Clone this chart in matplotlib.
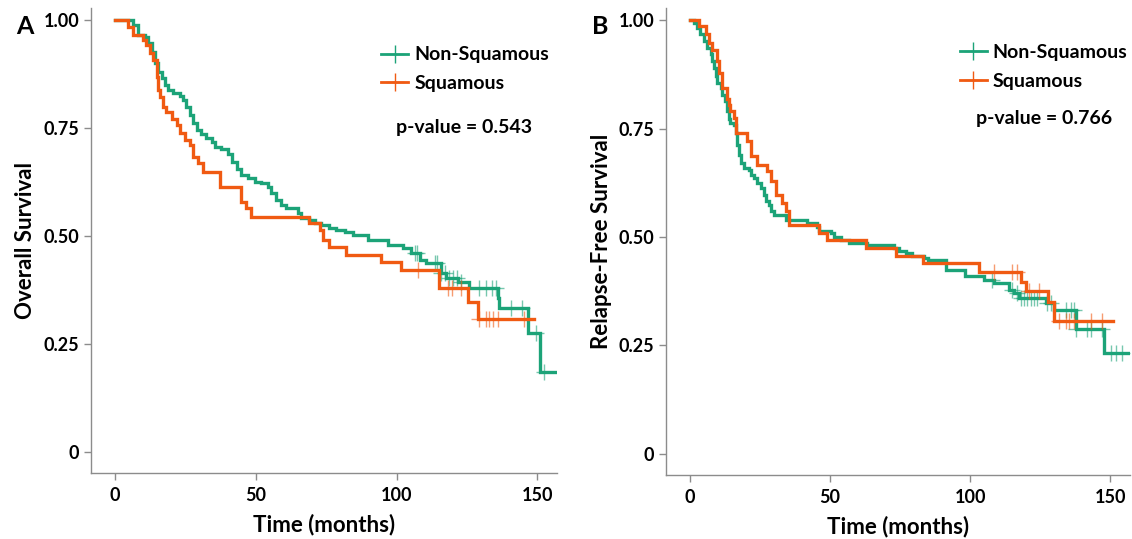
import numpy as np
import matplotlib.pyplot as plt
from matplotlib.lines import Line2D

# Panel A - overall survival (time in months, survival probability)
os_nonsq_t = [0, 6.5, 8.3, 10.6, 11.8, 13.0, 14.2, 15.4, 16.6, 17.7, 18.9, 20.7, 23.0, 24.2, 25.4,
              26.6, 27.8, 29.0, 30.7, 32.5, 34.3, 35.5, 37.8, 40.2, 41.4, 43.2, 44.9, 47.3, 49.6,
              52.0, 54.4, 55.6, 57.3, 59.1, 60.9, 65.0, 66.2, 69.1, 70.9, 73.3, 76.2, 78.6, 81.6,
              84.5, 89.8, 96.9, 102.2, 105.2, 108.2, 110.5, 115.9, 117.6, 121.7, 125.9, 135.9,
              136.5, 146.6, 151.0, 156.5]
os_nonsq_s = [1.0, 0.988, 0.965, 0.961, 0.946, 0.927, 0.900, 0.880, 0.865, 0.850, 0.838, 0.830,
              0.824, 0.815, 0.799, 0.780, 0.761, 0.745, 0.736, 0.728, 0.718, 0.707, 0.701, 0.691,
              0.672, 0.654, 0.641, 0.634, 0.626, 0.622, 0.614, 0.599, 0.583, 0.572, 0.564, 0.553,
              0.541, 0.537, 0.529, 0.525, 0.518, 0.514, 0.510, 0.502, 0.491, 0.479, 0.472, 0.460,
              0.444, 0.437, 0.414, 0.402, 0.394, 0.379, 0.356, 0.333, 0.275, 0.185, 0.185]
os_sq_t = [0, 4.5, 6.5, 10.0, 11.2, 12.4, 13.6, 14.8, 15.4, 16.0, 17.1, 18.3, 20.1, 21.9, 23.0,
           24.8, 26.6, 27.8, 29.5, 31.3, 37.2, 44.9, 46.7, 48.5, 69.1, 72.7, 73.9, 76.2, 82.2,
           94.6, 101.7, 115.2, 125.3, 128.8, 149.0]
os_sq_s = [1.0, 0.985, 0.965, 0.954, 0.942, 0.923, 0.907, 0.869, 0.838, 0.822, 0.799, 0.788,
           0.772, 0.757, 0.738, 0.722, 0.711, 0.684, 0.668, 0.649, 0.614, 0.579, 0.564, 0.545,
           0.529, 0.514, 0.491, 0.475, 0.456, 0.440, 0.421, 0.380, 0.348, 0.307, 0.307]
os_nonsq_cens = [106.4, 107.4, 113.5, 114.5, 115.9, 117.4, 118.8, 120.2, 121.6, 123.0, 129.4,
                 131.9, 134.0, 135.5, 140.8, 144.7, 149.6, 152.5]
os_sq_cens = [107.6, 118.3, 119.6, 122.9, 129.4, 131.8, 133.0, 134.2, 136.0, 145.4]

# Panel B - relapse-free survival
rfs_nonsq_t = [0, 1.4, 2.6, 3.8, 5.0, 6.2, 7.4, 8.0, 8.6, 9.2, 9.8, 11.0, 11.5, 12.7, 13.3, 13.9,
               14.5, 15.7, 16.3, 16.9, 17.5, 18.1, 19.3, 21.1, 21.7, 22.9, 24.0, 25.3, 26.4, 27.0,
               28.2, 28.8, 30.0, 34.2, 41.9, 45.5, 46.1, 50.3, 51.4, 53.8, 56.8, 63.3, 72.9, 74.6,
               77.0, 79.4, 83.6, 84.8, 91.3, 98.0, 105.0, 108.6, 113.9, 115.7, 117.5, 127.0,
               130.0, 137.8, 147.9, 156.5]
rfs_nonsq_s = [1.0, 0.994, 0.982, 0.967, 0.952, 0.936, 0.921, 0.905, 0.890, 0.871, 0.855, 0.844,
               0.828, 0.813, 0.790, 0.771, 0.763, 0.759, 0.740, 0.713, 0.690, 0.670, 0.659, 0.655,
               0.644, 0.636, 0.624, 0.613, 0.597, 0.582, 0.574, 0.559, 0.551, 0.540, 0.532, 0.524,
               0.514, 0.509, 0.501, 0.494, 0.486, 0.482, 0.474, 0.467, 0.463, 0.457, 0.451, 0.447,
               0.424, 0.410, 0.401, 0.393, 0.378, 0.370, 0.359, 0.347, 0.332, 0.288, 0.232, 0.232]
rfs_sq_t = [0, 3.2, 5.6, 6.8, 8.0, 9.8, 10.4, 11.5, 13.3, 13.9, 14.5, 15.7, 16.3, 20.5, 21.7,
            24.0, 27.6, 28.8, 30.6, 33.0, 34.2, 35.4, 46.1, 49.0, 62.8, 73.5, 83.0, 103.2, 118.1,
            120.0, 127.6, 130.0, 151.0]
rfs_sq_s = [1.0, 0.986, 0.967, 0.948, 0.932, 0.905, 0.878, 0.844, 0.817, 0.805, 0.790, 0.774,
            0.740, 0.721, 0.686, 0.667, 0.651, 0.628, 0.597, 0.578, 0.559, 0.528, 0.509, 0.494,
            0.474, 0.457, 0.440, 0.420, 0.395, 0.376, 0.351, 0.306, 0.306]
rfs_nonsq_cens = [107.9, 115.0, 116.8, 118.2, 119.3, 120.4, 121.8, 122.9, 123.9, 127.5, 128.9,
                  134.3, 136.1, 137.1, 137.9, 141.8, 143.2, 147.1, 150.4, 152.1, 154.3]
rfs_sq_cens = [108.6, 115.0, 116.8, 121.1, 124.6, 131.8, 134.3, 135.4, 137.1, 143.2, 147.1]

GREEN = '#1ca378'
ORANGE = '#f05a12'
FONT = 'Lato'

plt.rcParams['font.family'] = FONT
plt.rcParams['font.weight'] = 'bold'


def surv_at(times, surv, pts):
    idx = np.searchsorted(times, pts, side='right') - 1
    return np.asarray(surv)[idx]


def km_panel(ax, curves, ylabel, pval, letter, leg_anchor, p_pos):
    for t, s, cens, col in curves:
        ax.step(t, s, where='post', color=col, lw=2.4, solid_joinstyle='miter')
        ax.plot(cens, surv_at(t, s, cens), ls='none', marker='+', ms=12, mew=1.0,
                color=col, alpha=0.6)
    ax.set_xlim(-8.5, 157)
    ax.set_ylim(-0.049, 1.028)
    ax.set_xticks([0, 50, 100, 150])
    ax.set_yticks([0, 0.25, 0.5, 0.75, 1.0])
    ax.set_yticklabels(['0', '0.25', '0.50', '0.75', '1.00'])
    for sp in ['top', 'right']:
        ax.spines[sp].set_visible(False)
    for sp in ['left', 'bottom']:
        ax.spines[sp].set_color('#8c8c8c')
        ax.spines[sp].set_linewidth(1.0)
    ax.tick_params(colors='#8c8c8c', labelcolor='black', labelsize=13, length=5, width=1)
    ax.tick_params(axis='x', pad=5)
    ax.set_xlabel('Time (months)', fontsize=16, fontweight='bold', labelpad=7)
    ax.set_ylabel(ylabel, fontsize=16, fontweight='bold', labelpad=5)

    handles = [Line2D([], [], color=GREEN, lw=2, marker='+', ms=13, mew=1),
               Line2D([], [], color=ORANGE, lw=2, marker='+', ms=13, mew=1)]
    ax.legend(handles, ['Non-Squamous', 'Squamous'], loc='upper left',
              bbox_to_anchor=leg_anchor, frameon=False, handlelength=1.4,
              handletextpad=0.3, labelspacing=0.6,
              prop={'family': FONT, 'weight': 'bold', 'size': 14})
    ax.text(p_pos[0], p_pos[1], 'p-value = ' + pval, transform=ax.transAxes,
            ha='left', va='center', fontsize=14, fontweight='bold')
    ax.text(-0.16, 0.96, letter, transform=ax.transAxes, ha='left', va='center',
            fontsize=18, fontweight='bold')


fig = plt.figure(figsize=(11.32, 5.39), dpi=100)
W, H = 1132, 539
axA = fig.add_axes([91 / W, 1 - 473 / H, 466 / W, 465 / H])
axB = fig.add_axes([666 / W, 1 - 475 / H, 464 / W, 467 / H])

km_panel(axA,
         [(os_nonsq_t, os_nonsq_s, os_nonsq_cens, GREEN),
          (os_sq_t, os_sq_s, os_sq_cens, ORANGE)],
         'Overall Survival', '0.543', 'A', (0.585, 0.955), (0.655, 0.744))
km_panel(axB,
         [(rfs_nonsq_t, rfs_nonsq_s, rfs_nonsq_cens, GREEN),
          (rfs_sq_t, rfs_sq_s, rfs_sq_cens, ORANGE)],
         'Relapse-Free Survival', '0.766', 'B', (0.595, 0.96), (0.668, 0.764))

fig.savefig('out.png', dpi=100)
